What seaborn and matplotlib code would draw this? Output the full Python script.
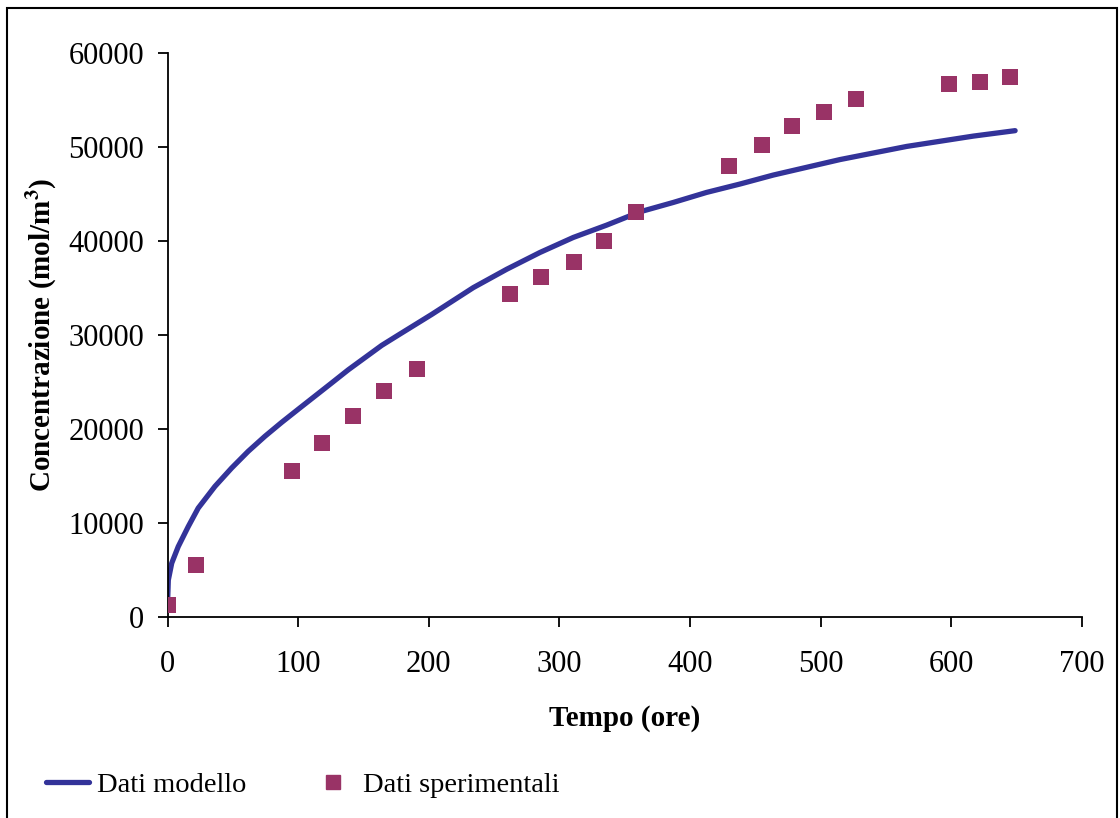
import numpy as np
import pandas as pd
import matplotlib
matplotlib.use("Agg")
import matplotlib.pyplot as plt
from matplotlib.patches import Rectangle
from matplotlib.lines import Line2D
import seaborn as sns

# model curve
tempo_modello = [0, 0.5, 3.1, 8.1, 15.8, 23.4, 36.2, 49, 61.7, 74.5, 87.3, 100,
                 112.8, 125.6, 138.3, 151.1, 163.9, 176.6, 189.4, 202.2, 234.1,
                 259.6, 285.1, 310.6, 336.1, 361.6, 387.2, 412.7, 438.2, 463.8,
                 514.9, 566, 617, 649]
conc_modello = [1800, 3900, 5700, 7470, 9610, 11570, 13880, 15840, 17620, 19220,
                20700, 22100, 23500, 24900, 26300, 27600, 28900, 30000, 31100,
                32200, 35060, 37010, 38800, 40400, 41710, 43130, 44130, 45200,
                46090, 47050, 48700, 50100, 51200, 51780]

# experimental points
tempo_sper = [0, 22, 95, 118, 142, 166, 191, 262, 286, 311, 334, 359,
              430, 455, 478, 503, 527, 598, 622, 645]
conc_sper = [1240, 5520, 15480, 18510, 21350, 24020, 26440, 34340, 36190, 37830,
             40040, 43070, 47980, 50250, 52250, 53740, 55150, 56750, 56960, 57500]

df_mod = pd.DataFrame({"t": tempo_modello, "c": conc_modello})
df_sper = pd.DataFrame({"t": tempo_sper, "c": conc_sper})

sns.set_style("ticks")
plt.rcParams["font.family"] = ["Liberation Serif", "DejaVu Serif"]
plt.rcParams["mathtext.fontset"] = "stix"
plt.rcParams["text.color"] = "black"
plt.rcParams["axes.labelcolor"] = "black"
plt.rcParams["xtick.color"] = "black"
plt.rcParams["ytick.color"] = "black"
plt.rcParams["axes.edgecolor"] = "black"

fig = plt.figure(figsize=(11.2, 8.18), dpi=100)
ax = fig.add_axes([0.1497, 0.2461, 0.9658 - 0.1497, 0.9346 - 0.2461])

line_col = "#333399"
pt_col = "#993366"

sns.lineplot(data=df_mod, x="t", y="c", ax=ax, color=line_col, linewidth=3.8,
             sort=False)
sns.scatterplot(data=df_sper, x="t", y="c", ax=ax, color=pt_col, marker="s",
                s=120, linewidth=0, zorder=3)

ax.set_xlim(0, 700)
ax.set_ylim(0, 60000)
ax.set_xticks(range(0, 701, 100))
ax.set_yticks(range(0, 60001, 10000))
ax.spines[["top", "right"]].set_visible(False)
for s in ["left", "bottom"]:
    ax.spines[s].set_linewidth(1.3)
ax.tick_params(axis="both", direction="out", length=7, width=1.3, labelsize=22)
ax.tick_params(axis="x", pad=17)
ax.tick_params(axis="y", pad=10)
ax.set_xlabel("Tempo (ore)", fontsize=21, fontweight="bold", labelpad=19)
ax.set_ylabel("Concentrazione (mol/m$^\\mathbf{3}$)", fontsize=21,
              fontweight="bold", labelpad=7)

handles = [Line2D([], [], color=line_col, linewidth=3.8),
           Line2D([], [], color=pt_col, marker="s", linestyle="none",
                  markersize=10)]
fig.legend(handles, ["Dati modello", "Dati sperimentali"], ncol=2,
           loc="center left", bbox_to_anchor=(0.041, 1 - 785 / 818),
           frameon=False, fontsize=20.5, handlelength=1.5, handletextpad=0.3,
           columnspacing=2.3, borderaxespad=0, borderpad=0)

# outer frame
fig.patches.append(Rectangle((7 / 1120, -0.02), 1110 / 1120, 1.02 - 8 / 818,
                             transform=fig.transFigure, fill=False,
                             edgecolor="black", linewidth=1.5))

fig.savefig("out.png", dpi=100)
